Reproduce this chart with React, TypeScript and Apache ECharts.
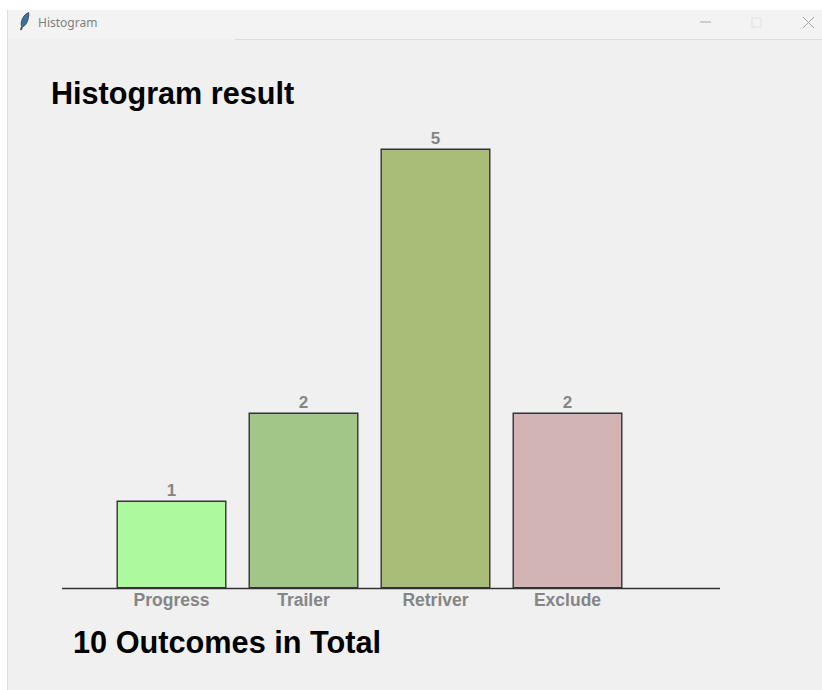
import React, { useEffect, useRef } from "react";
import * as echarts from "echarts";

const categories = ["Progress", "Trailer", "Retriver", "Exclude"];
const outcomeCounts = [1, 2, 5, 2];
const barColors = ["#adfa9e", "#a2c687", "#a9bc78", "#d2b4b4"];
const windowTitle = "Histogram";
const chartTitle = "Histogram result";
const totalLabel = "10 Outcomes in Total";

const FONT = '"Liberation Sans", Arial, sans-serif';

echarts.graphic.registerShape(
  "feather",
  echarts.graphic.extendPath(
    "M8 0 C5 1 2.5 4 1.6 8 C1.2 10 1.4 11 1.8 12 L0.8 15 L1.8 15 L2.8 12.4 C5 11.6 6.8 9 7.6 5.6 C8 3.6 8.4 1.6 8 0 Z",
    {}
  )
);

export default function App() {
  const ref = useRef<HTMLDivElement>(null);
  useEffect(() => {
    const chart = echarts.init(ref.current!, undefined, { renderer: "svg" });
    chart.setOption({
      animation: false,
      backgroundColor: "#ffffff",
      grid: { left: 105.5, right: 188.5, top: 148.5, bottom: 101.5 },
      xAxis: {
        type: "category",
        data: categories,
        axisLine: { show: false },
        axisTick: { show: false },
        axisLabel: {
          color: "#858585",
          fontFamily: FONT,
          fontWeight: "bold",
          fontSize: 17.5,
          margin: 2,
        },
      },
      yAxis: { type: "value", min: 0, max: 5, show: false, splitLine: { show: false } },
      series: [
        {
          type: "bar",
          barWidth: 110,
          data: outcomeCounts.map((value, i) => ({
            value,
            itemStyle: { color: barColors[i] },
          })),
          itemStyle: { borderColor: "#333333", borderWidth: 1.4 },
          label: {
            show: true,
            position: "top",
            distance: 2,
            color: "#858585",
            fontFamily: FONT,
            fontWeight: "bold",
            fontSize: 17,
          },
        },
      ],
      graphic: [
        { type: "rect", z: -10, shape: { x: 8, y: 10, width: 814, height: 680 }, style: { fill: "#f0f0f0" } },
        { type: "rect", z: -9, shape: { x: 8, y: 10, width: 814, height: 29 }, style: { fill: "#f3f3f3" } },
        { type: "line", z: -8, shape: { x1: 235, y1: 39.5, x2: 822, y2: 39.5 }, style: { stroke: "#dcdcdc", lineWidth: 1 } },
        { type: "line", z: -8, shape: { x1: 7.5, y1: 10, x2: 7.5, y2: 690 }, style: { stroke: "#dcdcdc", lineWidth: 1 } },
        { type: "feather", z: -7, x: 19.5, y: 12.5, scaleX: 1.15, scaleY: 1.15, style: { fill: "#3f6f9f", stroke: "#222222", lineWidth: 0.5 } },
        {
          type: "text", z: -7, x: 38, y: 22,
          style: { text: windowTitle, fill: "#808080", font: '12px "Noto Sans", "Open Sans", sans-serif', textVerticalAlign: "middle" },
        },
        { type: "line", z: -7, shape: { x1: 700, y1: 22, x2: 711, y2: 22 }, style: { stroke: "#a8a8a8", lineWidth: 1 } },
        { type: "rect", z: -7, shape: { x: 752, y: 18, width: 9, height: 9 }, style: { fill: "none", stroke: "#e0e0e0", lineWidth: 1 } },
        { type: "line", z: -7, shape: { x1: 803, y1: 17, x2: 814, y2: 28 }, style: { stroke: "#a8a8a8", lineWidth: 1 } },
        { type: "line", z: -7, shape: { x1: 814, y1: 17, x2: 803, y2: 28 }, style: { stroke: "#a8a8a8", lineWidth: 1 } },
        { type: "line", z: 5, shape: { x1: 62, y1: 588.5, x2: 720, y2: 588.5 }, style: { stroke: "#333333", lineWidth: 1.4 } },
        {
          type: "text", z: 5, x: 51, y: 93,
          style: { text: chartTitle, fill: "#000000", font: `bold 30.6px ${FONT}`, textVerticalAlign: "middle" },
        },
        {
          type: "text", z: 5, x: 73, y: 642,
          style: { text: totalLabel, fill: "#000000", font: `bold 30.7px ${FONT}`, textVerticalAlign: "middle" },
        },
      ],
    });
    return () => chart.dispose();
  }, []);
  return <div ref={ref} style={{ position: "absolute", left: 0, top: 0, width: 822, height: 690 }} />;
}
